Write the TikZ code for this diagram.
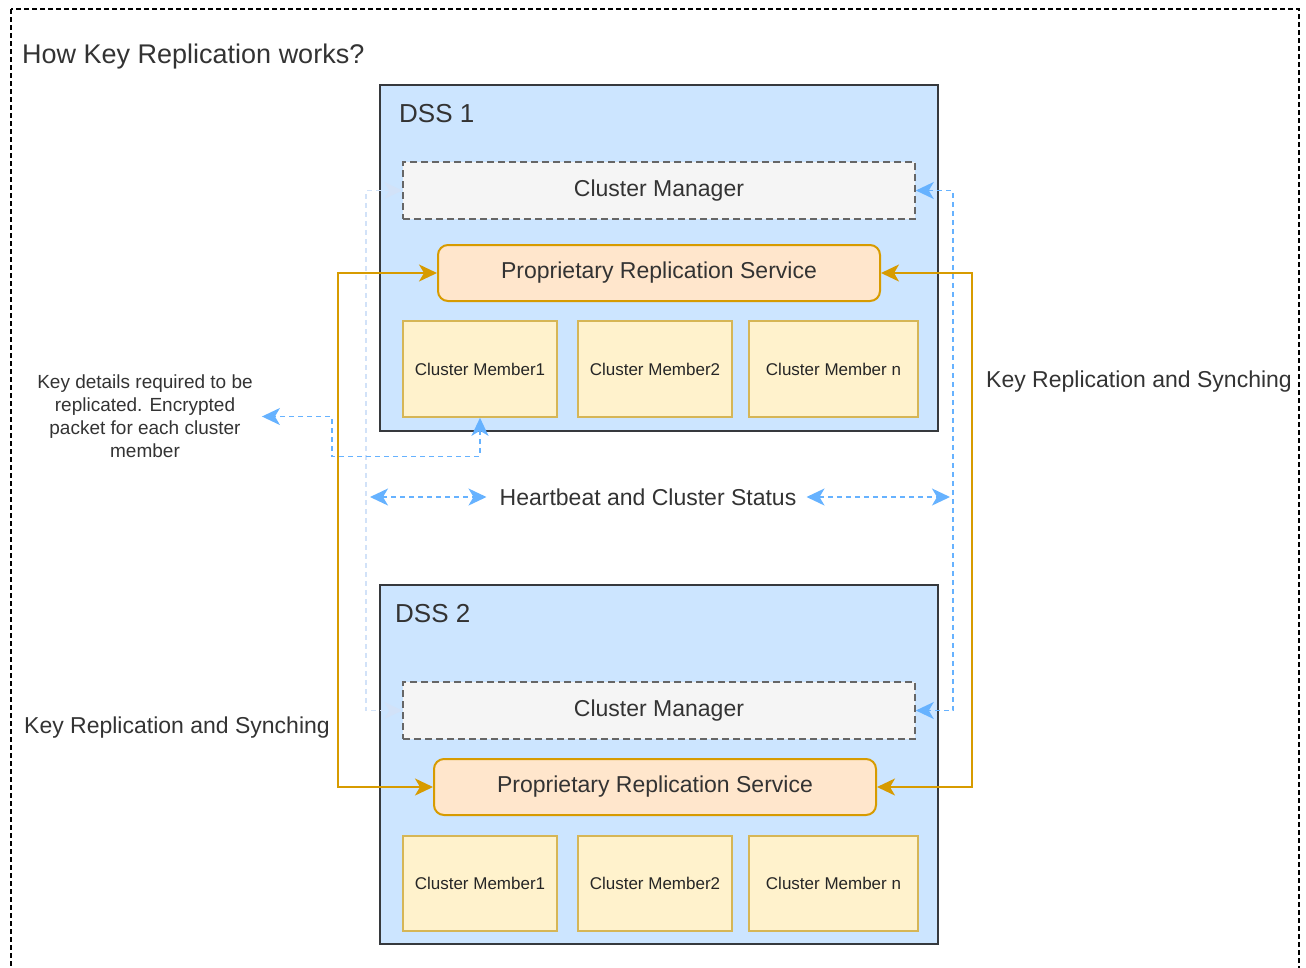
\documentclass[tikz,border=0pt]{standalone}
\usepackage{fontspec}
\setmainfont{Liberation Sans}
\usetikzlibrary{arrows.meta}

\definecolor{dssfill}{HTML}{CCE5FF}
\definecolor{dssline}{HTML}{36393D}
\definecolor{cmfill}{HTML}{F5F5F5}
\definecolor{cmline}{HTML}{666666}
\definecolor{prsfill}{HTML}{FFE6CC}
\definecolor{prsline}{HTML}{D79B00}
\definecolor{memfill}{HTML}{FFF2CC}
\definecolor{memline}{HTML}{D6B656}
\definecolor{linkblue}{HTML}{66B2FF}
\definecolor{faintblue}{HTML}{D2E2F8}
\definecolor{txt}{HTML}{333333}

\tikzset{
  every node/.style={text=txt},
  dssbox/.style={draw=dssline, fill=dssfill, line width=2pt, inner sep=0pt},
  mgrbox/.style={draw=cmline, fill=cmfill, line width=1.6pt, dash pattern=on 7pt off 4pt,
    inner sep=0pt, font=\fontsize{23}{27}\selectfont},
  prsbox/.style={draw=prsline, fill=prsfill, line width=2pt, rounded corners=10pt,
    inner sep=0pt, font=\fontsize{23}{27}\selectfont},
  membox/.style={draw=memline, fill=memfill, line width=1.6pt, inner sep=0pt,
    minimum height=96pt, font=\fontsize{17}{20}\selectfont, text=black!85},
  bothtips/.style={arrows={Stealth[length=18pt,width=17pt,inset=5pt]-Stealth[length=18pt,width=17pt,inset=5pt]}},
  syncline/.style={draw=prsline, line width=2pt, bothtips},
  beatline/.style={draw=linkblue, line width=1.6pt, dash pattern=on 5pt off 4pt, bothtips},
  faintline/.style={draw=faintblue, line width=1.6pt, dash pattern=on 5pt off 4pt, bothtips},
  frameline/.style={draw=black, line width=1.4pt, dash pattern=on 5pt off 3pt},
  plain/.style={inner sep=0pt}
}

\begin{document}
\begin{tikzpicture}[x=1pt,y=-1pt]
\useasboundingbox (0,0) rectangle (1306,967);
\clip (0,0) rectangle (1306,967);

% outer frame
\draw[frameline] (11,9) rectangle (1299,1010);
\node[plain, anchor=west, font=\fontsize{27}{32}\selectfont] (title) at (22,57) {How Key Replication works?};

% first DSS
\node[dssbox, minimum width=558pt, minimum height=346pt] (dss1) at (659,258) {};
\node[plain, anchor=west, font=\fontsize{26}{31}\selectfont] (dss1lbl) at (399,114) {DSS 1};
\node[mgrbox, minimum width=512pt, minimum height=57pt] (cm1) at (659,190.5) {Cluster Manager};
\node[prsbox, minimum width=442pt, minimum height=56pt] (prs1) at (659,273) {Proprietary Replication Service};
\node[membox, minimum width=154pt] (m11) at (480,369) {Cluster Member1};
\node[membox, minimum width=154pt] (m12) at (655,369) {Cluster Member2};
\node[membox, minimum width=169pt] (m13) at (833.5,369) {Cluster Member n};

% second DSS
\node[dssbox, minimum width=558pt, minimum height=359pt] (dss2) at (659,764.5) {};
\node[plain, anchor=west, font=\fontsize{26}{31}\selectfont] (dss2lbl) at (395,614) {DSS 2};
\node[mgrbox, minimum width=512pt, minimum height=57pt] (cm2) at (659,710.5) {Cluster Manager};
\node[prsbox, minimum width=442pt, minimum height=56pt] (prs2) at (655,787) {Proprietary Replication Service};
\node[membox, minimum width=154pt, minimum height=95pt] (m21) at (480,883.5) {Cluster Member1};
\node[membox, minimum width=154pt, minimum height=95pt] (m22) at (655,883.5) {Cluster Member2};
\node[membox, minimum width=169pt, minimum height=95pt] (m23) at (833.5,883.5) {Cluster Member n};

% routing columns
\coordinate (syncL) at (338,0);
\coordinate (syncR) at (972,0);
\coordinate (mgrL) at (366,0);
\coordinate (mgrR) at (953,0);

% cluster manager links
\draw[faintline] (cm1.west) -- (cm1.west -| mgrL) -- (cm2.west -| mgrL) -- (cm2.west);
\draw[beatline] (cm1.east) -- (cm1.east -| mgrR) -- (cm2.east -| mgrR) -- (cm2.east);

% replication service links
\draw[syncline] (prs1.west) -- (prs1.west -| syncL) -- (prs2.west -| syncL) -- (prs2.west);
\draw[syncline] (prs1.east) -- (prs1.east -| syncR) -- (prs2.east -| syncR) -- (prs2.east);
\node[plain, anchor=west, font=\fontsize{23}{27}\selectfont] (syncRlbl) at (986,382) {Key Replication and Synching};
\node[plain, anchor=west, font=\fontsize{23}{27}\selectfont] (syncLlbl) at (24,728) {Key Replication and Synching};

% heartbeat
\node[plain, font=\fontsize{23}{27}\selectfont] (hb) at (648,497) {Heartbeat and Cluster Status};
\coordinate (hbL) at (370,497);
\coordinate (hbR) at (950,497);
\draw[beatline] (hbL) -- ([xshift=-13pt]hb.west);
\draw[beatline] ([xshift=10pt]hb.east) -- (hbR);

% key packet note
\node[plain, align=center, font=\fontsize{19}{23}\selectfont] (note) at (145,416.5)
  {Key details required to be\\replicated. Encrypted\\packet for each cluster\\member};
\coordinate (noteBend) at (332,456.5);
\draw[beatline] (m11.south) |- (noteBend) |- ([xshift=9pt]note.east);
\end{tikzpicture}
\end{document}
